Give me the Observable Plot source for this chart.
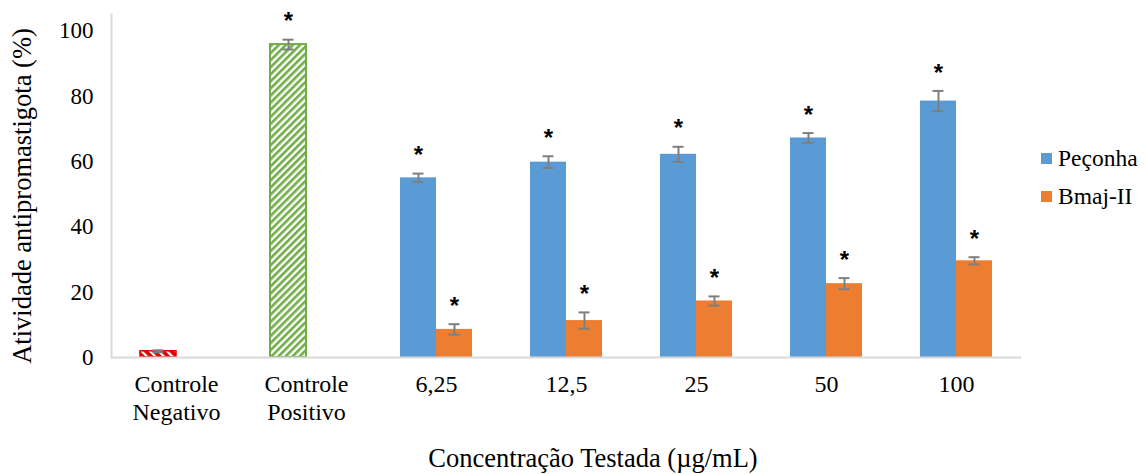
<!DOCTYPE html>
<html>
<head>
<meta charset="utf-8">
<script src="https://cdn.jsdelivr.net/npm/d3@7"></script>
<script src="https://cdn.jsdelivr.net/npm/@observablehq/plot@0.6"></script>
<style>
  body { margin: 0; background: #fff; }
  #wrap { position: relative; width: 1146px; height: 474px; font-family: "Liberation Serif", "Times New Roman", serif; color: #000; overflow: hidden; }
  #legend { position: absolute; left: 1041px; top: 139px; font-size: 23.5px; }
  .item { display: flex; align-items: center; height: 38px; }
  .sw { width: 11px; height: 11px; margin-right: 6px; }
  #xtitle { position: absolute; left: 593px; top: 443px; transform: translateX(-50%); font-size: 26.5px; white-space: nowrap; line-height: 30px; }
  #ytitle { position: absolute; left: 22px; top: 196px; transform: translate(-50%, -50%) rotate(-90deg); font-size: 26.5px; white-space: nowrap; line-height: 30px; }
</style>
</head>
<body>
<svg width="0" height="0" style="position:absolute">
  <defs>
    <pattern id="hatchPos" patternUnits="userSpaceOnUse" width="5" height="5" patternTransform="rotate(45)">
      <rect width="5" height="5" fill="#ffffff"></rect>
      <rect width="2.6" height="5" fill="#70AD47"></rect>
    </pattern>
    <pattern id="hatchNeg" patternUnits="userSpaceOnUse" width="6" height="6" patternTransform="rotate(-45)">
      <rect width="6" height="6" fill="#E00000"></rect>
      <rect width="2.2" height="6" fill="#ffffff"></rect>
    </pattern>
  </defs>
</svg>
<div id="wrap">
  <div id="chart"></div>
  <div id="ytitle">Atividade antipromastigota (%)</div>
  <div id="xtitle">Concentração Testada (µg/mL)</div>
  <div id="legend"></div>
</div>
<script>
// ---- data ----
const categories = ["Controle\nNegativo", "Controle\nPositivo", "6,25", "12,5", "25", "50", "100"];
const controlLabels = ["Controle\nNegativo", "Controle\nPositivo"];
const controlValues = [1.9, 95.8];
const controlErrors = [0.3, 1.5];
const controlStars = ["", "*"];
const concentrations = ["6,25", "12,5", "25", "50", "100"];
const peconhaValues = [55.0, 59.8, 62.2, 67.2, 78.5];
const peconhaErrors = [1.3, 1.8, 2.3, 1.5, 3.1];
const bmajValues = [8.6, 11.3, 17.3, 22.6, 29.6];
const bmajErrors = [1.6, 2.5, 1.4, 1.7, 1.1];
const stars = ["*", "*", "*", "*", "*"];
const seriesNames = ["Peçonha", "Bmaj-II"];
const seriesColors = ["#5B9BD5", "#ED7D31"];
const yTicks = [0, 20, 40, 60, 80, 100];

// ---- tables ----
const controls = controlLabels.map((c, i) => ({cat: c, pos: "a", value: controlValues[i], err: controlErrors[i], star: controlStars[i]}));
const peconha = concentrations.map((c, i) => ({cat: c, pos: "a", value: peconhaValues[i], err: peconhaErrors[i], star: stars[i]}));
const bmaj = concentrations.map((c, i) => ({cat: c, pos: "b", value: bmajValues[i], err: bmajErrors[i], star: stars[i]}));
const all = [...controls, ...peconha, ...bmaj];

const errStroke = "#7F7F7F";

const chart = Plot.plot({
  width: 1146,
  height: 474,
  marginLeft: 110,
  marginRight: 124,
  marginTop: 14,
  marginBottom: 117,
  style: {fontFamily: "'Liberation Serif', 'Times New Roman', serif", background: "#fff", color: "#000"},
  fx: {domain: categories, padding: 0},
  x: {domain: ["a", "b"], paddingInner: 0, paddingOuter: 0.76, axis: null},
  y: {domain: [0, 105]},
  marks: [
    Plot.axisY({ticks: yTicks, tickSize: 0, tickPadding: 18, fontSize: 23, label: null}),
    Plot.axisFx({anchor: "bottom", tickSize: 0, tickPadding: 15, fontSize: 24, lineHeight: 1.15, label: null}),
    Plot.barY(peconha, {fx: "cat", x: "pos", y: "value", fill: seriesColors[0]}),
    Plot.barY(bmaj, {fx: "cat", x: "pos", y: "value", fill: seriesColors[1]}),
    Plot.barY(controls.slice(0, 1), {fx: "cat", x: "pos", y: "value", fill: "url(#hatchNeg)", stroke: "#E00000", strokeWidth: 1.5}),
    Plot.barY(controls.slice(1, 2), {fx: "cat", x: "pos", y: "value", fill: "url(#hatchPos)", stroke: "#70AD47", strokeWidth: 2}),
    Plot.ruleY([0], {stroke: "#D9D9D9", strokeWidth: 2}),
    Plot.frame({anchor: "left", facetAnchor: "left", stroke: "#D9D9D9", strokeWidth: 2}),
    Plot.ruleX(all, {fx: "cat", x: "pos", y1: d => d.value - d.err, y2: d => d.value + d.err, stroke: errStroke, strokeWidth: 2}),
    Plot.tickY(all, {fx: "cat", x: "pos", y: d => d.value + d.err, insetLeft: 12.5, insetRight: 12.5, stroke: errStroke, strokeWidth: 2}),
    Plot.tickY(all, {fx: "cat", x: "pos", y: d => d.value - d.err, insetLeft: 12.5, insetRight: 12.5, stroke: errStroke, strokeWidth: 2}),
    Plot.text(all, {fx: "cat", x: "pos", y: d => d.value + d.err, text: "star", dy: -18, fontSize: 24, fontWeight: "bold", fontFamily: "'Liberation Sans', Arial, sans-serif"})
  ]
});
document.getElementById("chart").appendChild(chart);

const legend = document.getElementById("legend");
seriesNames.forEach((name, i) => {
  const item = document.createElement("div");
  item.className = "item";
  const sw = document.createElement("span");
  sw.className = "sw";
  sw.style.background = seriesColors[i];
  const label = document.createElement("span");
  label.textContent = name;
  item.appendChild(sw);
  item.appendChild(label);
  legend.appendChild(item);
});
</script>
</body>
</html>
